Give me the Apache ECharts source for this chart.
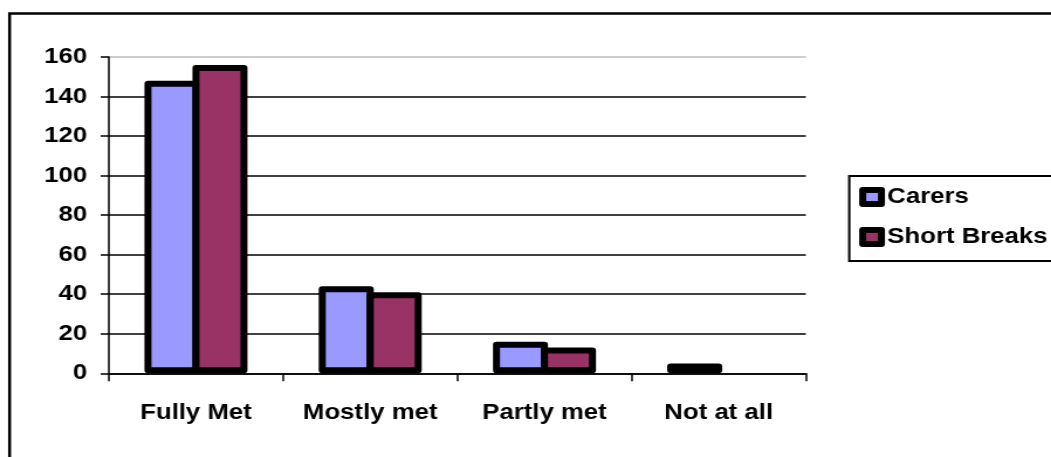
<!DOCTYPE html>
<html>
<head>
<meta charset="utf-8">
<title>Carers / Short Breaks</title>
<script src="https://cdn.jsdelivr.net/npm/echarts@6/dist/echarts.min.js"></script>
<style>
  html, body { margin: 0; padding: 0; background: #fff; overflow: hidden; }
  /* the original picture is stretched sideways, so draw narrower and scale x */
  #chart { width: 898px; height: 457px; transform: scaleX(1.1704); transform-origin: 0 0; }
</style>
</head>
<body>
<div id="chart"></div>
<script>
const categories = ["Fully Met", "Mostly met", "Partly met", "Not at all"];
const carers = [148, 44, 16, 5];
const shortBreaks = [156, 41, 13, 0];
const yTicks = [0, 20, 40, 60, 80, 100, 120, 140, 160];

const FONT = "'Liberation Sans', Arial, sans-serif";
const black = "#000";
const BORDER = 6;
const BAR_W = 47;

function bars(values) {
  // a zero value is not drawn at all in the original
  return values.map((v) => (v === 0 ? "-" : v));
}

const el = document.getElementById("chart");
const chart = echarts.init(el, undefined, { renderer: "canvas" });

const gridColors = yTicks.map((v, i) => (i === yTicks.length - 1 ? "#bdbdbd" : black));

// neighbouring bars share one border line, like the original
const barGap = (-BORDER / BAR_W * 100).toFixed(2) + "%";

chart.setOption({
  animation: false,
  backgroundColor: "#fff",
  graphic: [
    {
      type: "rect",
      shape: { x: 8.2, y: 13.5, width: 1200, height: 1200 },
      style: { fill: null, stroke: black, lineWidth: 2.5 },
      silent: true,
    },
  ],
  legend: {
    orient: "vertical",
    left: 725.6,
    top: 176,
    padding: [10, 5, 13, 8.5],
    itemGap: 18,
    itemWidth: 16,
    itemHeight: 14,
    icon: "rect",
    borderColor: black,
    borderWidth: 2,
    backgroundColor: "#fff",
    itemStyle: { borderColor: black, borderWidth: BORDER, borderJoin: "round" },
    textStyle: { color: black, fontFamily: FONT, fontWeight: "bold", fontSize: 22 },
    data: ["Carers", "Short Breaks"],
  },
  grid: { left: 93, right: 209.5, top: 57, bottom: 83.7 },
  xAxis: {
    type: "category",
    data: categories,
    boundaryGap: true,
    axisLine: { lineStyle: { color: black, width: 1.5 } },
    axisTick: { show: true, interval: 0, length: 8, lineStyle: { color: black, width: 1.5 } },
    axisLabel: {
      interval: 0,
      color: black,
      fontFamily: FONT,
      fontWeight: "bold",
      fontSize: 22,
      margin: 29,
    },
  },
  yAxis: {
    type: "value",
    min: yTicks[0],
    max: yTicks[yTicks.length - 1],
    interval: yTicks[1] - yTicks[0],
    axisLine: { show: true, lineStyle: { color: black, width: 1.5 } },
    axisTick: { show: true, length: 7, lineStyle: { color: black, width: 1.5 } },
    axisLabel: { color: black, fontFamily: FONT, fontWeight: "bold", fontSize: 22, margin: 18.5 },
    splitLine: { show: true, lineStyle: { color: gridColors, width: 1.5 } },
  },
  series: [
    {
      name: "Carers",
      type: "bar",
      barWidth: BAR_W,
      barGap: barGap,
      itemStyle: { color: "#9999ff", borderColor: black, borderWidth: BORDER, borderJoin: "round" },
      data: bars(carers),
    },
    {
      name: "Short Breaks",
      type: "bar",
      barWidth: BAR_W,
      barGap: barGap,
      itemStyle: { color: "#993366", borderColor: black, borderWidth: BORDER, borderJoin: "round" },
      data: bars(shortBreaks),
    },
  ],
});

new ResizeObserver(() => chart.resize()).observe(el);
</script>
</body>
</html>
